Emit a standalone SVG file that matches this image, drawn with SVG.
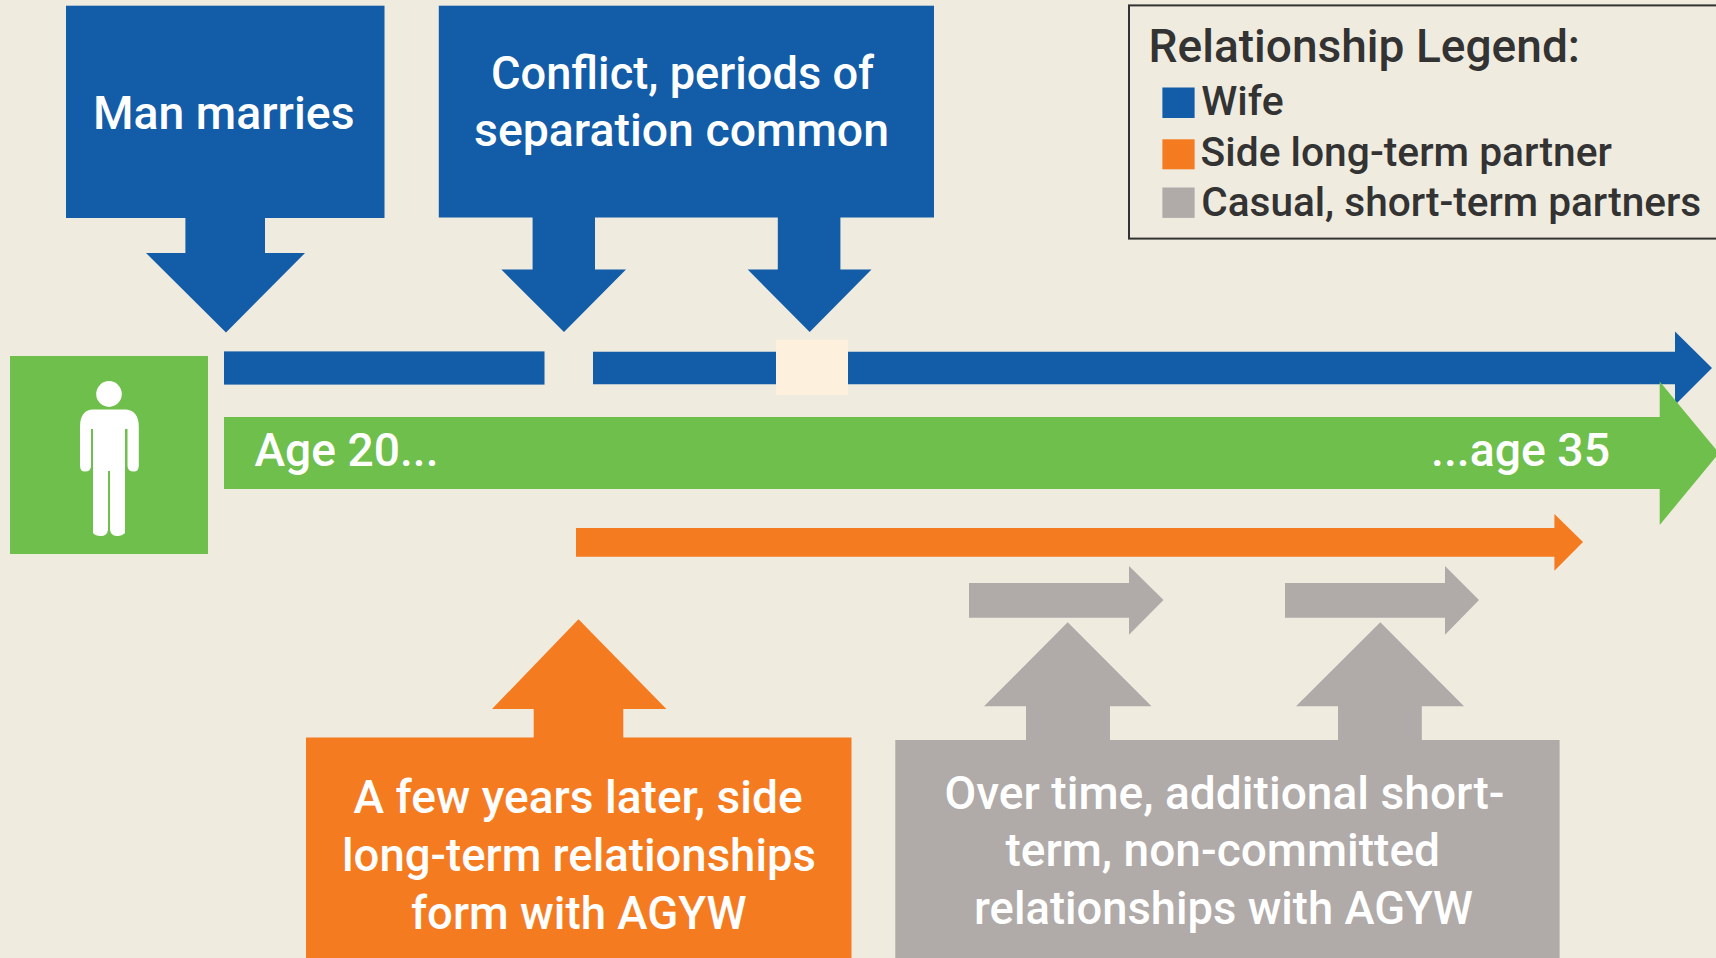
<svg xmlns="http://www.w3.org/2000/svg" width="1716" height="958" viewBox="0 0 1716 958">
<style>
.b{fill:#125ca8}.g{fill:#6ebf4b}.o{fill:#f57b20}.y{fill:#b0aaa9}
text{font-family:Roboto,"Liberation Sans",sans-serif;font-weight:500}
.w{fill:#fff;font-size:46px}
.k{fill:#333;font-size:46px}
.l{fill:#333;font-size:40px}
</style>
<rect width="1716" height="958" fill="#efebdf"/>
<g id="connectors">
<polygon class="b" points="185.4,217 265,217 265,253 305,253 226,332.5 146,253 185.4,253"/>
<polygon class="b" points="532.6,217 595,217 595,269.6 626,269.6 564,332 501.4,269.6 532.6,269.6"/>
<polygon class="b" points="777.8,217 840.4,217 840.4,269.6 871.5,269.6 809.7,332 747.7,269.6 777.8,269.6"/>
<rect class="b" x="224" y="351.4" width="320.5" height="33.2"/>
<polygon class="b" points="593,351.8 1675,351.8 1675,331.4 1712,368 1675,405 1675,384.3 593,384.3"/>
<rect x="776" y="339.6" width="72" height="55.4" fill="#fdf0dc"/>
<polygon class="g" points="224,417 1659.7,417 1659.7,381.4 1719,453 1659.7,525 1659.7,489 224,489"/>
<polygon class="o" points="576,528 1554.4,528 1554.4,514 1583,542 1554.4,570.7 1554.4,556.7 576,556.7"/>
<polygon class="y" points="969,583 1129,583 1129,566 1163.5,600 1129,634.7 1129,617.7 969,617.7"/>
<polygon class="y" points="1285,583 1445,583 1445,566 1479,600 1445,634.7 1445,617.7 1285,617.7"/>
<polygon class="o" points="533.7,738 533.7,709 492,709 578.5,619.3 666.4,709 623.3,709 623.3,738"/>
<polygon class="y" points="1026,741 1026,706.3 984,706.3 1067.7,622.3 1151.5,706.3 1110,706.3 1110,741"/>
<polygon class="y" points="1338,741 1338,706.3 1296,706.3 1380.3,622.3 1464,706.3 1421.8,706.3 1421.8,741"/>
</g>
<g id="person">
<rect class="g" x="10" y="356" width="198" height="198"/>
<ellipse cx="109" cy="394" rx="12.8" ry="12.9" fill="#fff"/>
<path fill="#fff" d="M92 409.6H126Q138.8 411 138.8 427V466Q138.5 471.5 134 471.5Q127.5 471.5 127.5 466V429H125V533Q122 536 117.5 536Q111 536 110 530V471H108V530Q107 536 101 536Q95 536 93 533V429H91V466Q91 471.5 85 471.5Q80 471.5 80 466V427Q80 411 92 409.6Z"/>
</g>
<g id="age-labels">
<text class="w" x="254.5" y="466.4" textLength="184" lengthAdjust="spacingAndGlyphs">Age 20...</text>
<text class="w" x="1431" y="466" textLength="179" lengthAdjust="spacingAndGlyphs">...age 35</text>
</g>
<g id="man-marries">
<rect class="b" x="66" y="5.7" width="318.5" height="212.3"/>
<text class="w" x="93" y="128.6" textLength="261.5" lengthAdjust="spacingAndGlyphs">Man marries</text>
</g>
<g id="conflict">
<rect class="b" x="438.8" y="5.7" width="495.2" height="211.8"/>
<text class="w" x="491" y="89.3" textLength="383" lengthAdjust="spacingAndGlyphs">Conflict, periods of</text>
<text class="w" x="474" y="145.6" textLength="415" lengthAdjust="spacingAndGlyphs">separation common</text>
</g>
<g id="legend">
<rect x="1129" y="5.4" width="600" height="233.2" fill="none" stroke="#333" stroke-width="2"/>
<text class="k" x="1148.5" y="61.8" textLength="431.5" lengthAdjust="spacingAndGlyphs">Relationship Legend:</text>
<rect class="b" x="1162.4" y="87.5" width="32.2" height="30.5"/>
<text class="l" x="1201.2" y="115" textLength="82.5" lengthAdjust="spacingAndGlyphs">Wife</text>
<rect class="o" x="1162.4" y="139.3" width="32.2" height="30"/>
<text class="l" x="1200.6" y="166" textLength="411.4" lengthAdjust="spacingAndGlyphs">Side long-term partner</text>
<rect class="y" x="1162.4" y="187.5" width="32.2" height="30.4"/>
<text class="l" x="1201.2" y="216.4" textLength="500" lengthAdjust="spacingAndGlyphs">Casual, short-term partners</text>
</g>
<g id="side-partner">
<rect class="o" x="306" y="737.5" width="545.5" height="220.5"/>
<text class="w" x="353.6" y="813" textLength="449" lengthAdjust="spacingAndGlyphs">A few years later, side</text>
<text class="w" x="342" y="870.8" textLength="474" lengthAdjust="spacingAndGlyphs">long-term relationships</text>
<text class="w" x="411" y="929" textLength="335.5" lengthAdjust="spacingAndGlyphs">form with AGYW</text>
</g>
<g id="casual-partners">
<rect class="y" x="895.3" y="740" width="664.3" height="218"/>
<text class="w" x="944.5" y="809" textLength="560" lengthAdjust="spacingAndGlyphs">Over time, additional short-</text>
<text class="w" x="1005.5" y="865.9" textLength="434.5" lengthAdjust="spacingAndGlyphs">term, non-committed</text>
<text class="w" x="974" y="924" textLength="499" lengthAdjust="spacingAndGlyphs">relationships with AGYW</text>
</g>
</svg>
